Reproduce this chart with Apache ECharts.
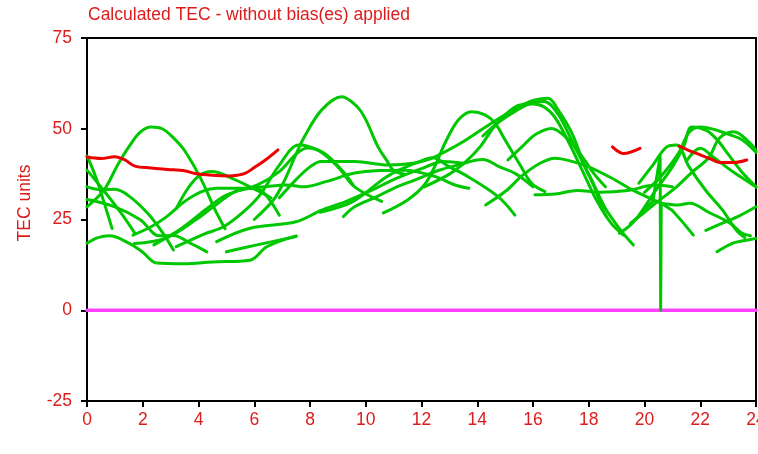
<!DOCTYPE html>
<html>
<head>
<meta charset="utf-8">
<script src="https://cdn.jsdelivr.net/npm/echarts@6/dist/echarts.min.js"></script>
<style>
  html, body { margin: 0; padding: 0; background: #ffffff; }
  #chart { width: 758px; height: 454px; }
</style>
</head>
<body>
<div id="chart"></div>
<script>
// Axis ranges (hours of day, TEC units)
const xMin = 0, xMax = 24, xStep = 2;
const yMin = -25, yMax = 75, yStep = 25;

// Satellite passes: [hour, TEC]
const g01 = [[0,28.5],[0.6,33],[1.1,40],[1.5,45],[1.9,49],[2.3,50.5],[2.7,50],[3.1,47.5],[3.5,44],[4.1,36],[4.6,27.6],[4.95,22.5]];
const g02 = [[0,42.5],[0.3,37],[0.6,30],[0.9,22.5]];
const g03 = [[0,38.6],[0.6,33],[1.2,27],[1.72,21.2]];
const g04 = [[0,34],[0.5,33.2],[1,33.3],[1.5,31.5],[2.2,26.5],[2.7,21.5],[3.1,16.6]];
const g05 = [[0,30.5],[1,28.5],[1.9,25],[2.6,20.5],[3.1,20.6],[3.7,18.5],[4.3,16.1]];
const g06 = [[0,18.5],[0.4,20],[0.8,20.5],[1.5,18.5],[2,16],[2.5,13],[3.5,12.8],[4.5,13.3],[5.85,13.8],[6.45,17.5],[7.5,20.5]];
const g07 = [[1.65,20.7],[2.3,23],[2.86,25.8],[3.7,31],[4.65,33.6],[5.85,33.6],[6.3,32.7],[6.9,26.2]];
const g08 = [[1.7,18.4],[2.8,19.8],[3.9,24.9],[4.7,29.5],[5.4,33],[6.4,34],[7.2,34.5],[7.8,34],[8.6,35.5],[9.6,37.8],[10.5,38.5],[11.4,38.6],[12.5,36.8],[13.2,34.5],[13.7,33.6]];
const g09 = [[2.4,18],[3.4,22.6],[4.3,28],[5.0,31.7],[6.1,34.5],[6.9,38.2],[7.5,43],[7.9,44.7],[8.5,43.3],[9.14,38.6],[9.55,34.5]];
const g10 = [[3.2,17.5],[4.2,21],[4.9,23],[5.6,27],[6.2,31.7],[6.9,40],[7.6,45.5],[8.3,44],[9,39.5],[9.6,34],[10.57,30]];
const g11 = [[5.0,16.1],[6.1,18],[7.5,20.3]];
const g12 = [[4.65,18.9],[5.85,22.6],[7.5,24.4],[8.4,27.5],[9.3,30],[10.2,33],[11,36],[12,39],[12.8,41],[13.5,40.5]];
const g13 = [[6.0,25],[6.7,30.5],[7.1,36],[7.46,42.3],[7.8,47.8],[8.42,55.2],[9.14,58.8],[9.7,56],[10.0,52.5],[10.44,45],[10.75,41.3],[11.0,38.5],[11.4,37.5]];
const g14 = [[6.9,31],[7.5,36],[8.0,39.5],[8.4,41],[9.6,41],[10.8,40],[11.7,40.5],[12.4,42],[13.0,39.5],[13.67,36.8],[14.75,31.3],[15.35,26.2]];
const g15 = [[9.2,25.8],[9.6,28.5],[10.4,31.3],[11,33.6],[11.8,36],[12.6,38.5],[13.3,40],[14.2,41.5],[14.8,39.5],[15.4,37.5],[16.0,34]];
const g16 = [[10.63,26.8],[11.5,30.4],[12.1,34.5],[12.5,40],[12.84,46],[13.32,52.4],[13.8,54.7],[14.28,53.8],[14.64,51.5],[15.0,46.9],[15.5,40.5],[15.95,35],[16.43,32.7]];
const g17 = [[8.36,27],[9.55,30],[10.75,36.8],[11.6,40],[12.4,42],[13.4,46],[14.3,50.5],[15.2,54.8],[15.6,56.5],[16.07,57.9],[16.54,58.4],[16.9,55.2],[17.4,48.7],[17.86,39.5],[18.2,34],[18.46,28.5],[18.65,25.6]];
const g18 = [[12.1,34],[13.0,37.5],[13.6,41],[14.1,45],[14.6,50.5],[15.1,54.5],[15.5,56.5],[16.0,56.8],[16.4,56],[16.8,53],[17.3,46],[17.8,38],[18.3,30],[18.8,24],[19.24,20.7]];
const g19 = [[14.2,48],[14.8,52],[15.4,55],[16.0,57.2],[16.4,57.5],[16.9,54],[17.5,45],[18.1,36],[18.6,28],[19.2,21.5],[19.6,18]];
const g20 = [[15.1,41.4],[15.6,45],[16.1,48.5],[16.67,50.1],[17.2,47.5],[17.7,43],[18.2,37.5],[18.6,34]];
const g21 = [[14.3,29],[15.05,33],[15.6,37],[16.25,40.5],[16.8,41.9],[17.4,41],[18.0,39.5],[18.8,36.5],[19.6,33],[20.58,29.5]];
const g22 = [[16.07,31.8],[16.8,32],[17.6,33],[18.4,32.5],[19.4,33],[20.4,34.5],[21.0,34]];
const g23 = [[19.1,21.2],[19.5,23.5],[19.85,26.7],[20.4,33],[21.0,39.5],[21.4,45],[21.7,50.5],[22.2,49.6],[22.6,47],[23.0,43],[23.5,38],[24,34]];
const g24 = [[19.5,24],[20.0,27],[20.4,29.5],[21.15,34],[21.7,38],[22.3,42],[22.7,47.5],[23.2,49.2],[23.8,46],[24,44]];
const g25 = [[19.8,35],[20.3,40],[20.8,45],[21.15,45.5],[21.6,39.5],[22.2,33],[22.8,27.6],[23.3,22],[23.6,20]];
const g26 = [[19.9,27],[20.3,30],[20.56,42.5],[20.58,0],[20.6,29.5],[21.0,27.5],[21.4,24],[21.75,20.7]];
const g27 = [[20.6,29.5],[21.2,29],[21.63,29.5],[22.3,27],[23.07,24],[23.5,21.2],[23.8,20.5]];
const g28 = [[22.6,16.1],[23.17,18.5],[23.6,19.2],[24,19.8]];
const g29 = [[20.0,32.5],[20.6,37],[21.2,43],[21.6,49],[22.0,50.5],[22.5,49.8],[23.0,48.5],[23.5,47],[24,43.5]];
const g30 = [[21.5,41],[22,44.6],[22.5,42],[23.2,38],[23.8,35],[24,34]];
const g31 = [[22.2,22],[22.8,24],[23.4,26],[24,28.5]];
const g32 = [[3.2,28],[3.87,36],[4.47,38.2],[5.3,36],[6.1,33],[6.6,31]];

// Passes drawn in red
const r1 = [[0,42.2],[0.5,41.8],[1.0,42.3],[1.36,41.4],[1.72,39.7],[2.3,39.2],[2.9,38.8],[3.5,38.4],[3.87,37.7],[4.5,37.2],[5.07,37],[5.4,37.2],[5.67,37.7],[6.0,39.3],[6.4,41.4],[6.85,44.2]];
const r2 = [[18.85,45],[19.24,43.2],[19.84,44.6]];
const r3 = [[21.25,45.2],[21.6,44],[22,42.8],[22.4,41.6],[22.7,40.7],[23.2,40.7],[23.67,41.4]];

// Zero reference
const zeroLine = [[0,0],[24,0]];

const greenPasses = [g01,g02,g03,g04,g05,g06,g07,g08,g09,g10,g11,g12,g13,g14,g15,g16,
                     g17,g18,g19,g20,g21,g22,g23,g24,g25,g26,g27,g28,g29,g30,g31,g32];
const redPasses = [r1, r2, r3];

const TEXT_RED = '#dc1c1c';
const FONT = '"Liberation Sans", Arial, sans-serif';
const FS = 17.5;

function lineSeries(data, color, width, smooth, z) {
  return {
    type: 'line', data: data, showSymbol: false, symbol: 'none',
    smooth: smooth, z: z, silent: true,
    lineStyle: { color: color, width: width, cap: 'round', join: 'round' }
  };
}

const series = [lineSeries(zeroLine, '#ff40ff', 3.5, false, 2)];
greenPasses.forEach(function (d) {
  series.push(lineSeries(d, '#00c800', 3, d === g26 ? false : 0.35, 3));
});
redPasses.forEach(function (d) {
  series.push(lineSeries(d, '#ee0000', 3, 0.35, 4));
});

const chart = echarts.init(document.getElementById('chart'), null, { renderer: 'canvas' });
chart.setOption({
  animation: false,
  backgroundColor: '#ffffff',
  grid: {
    left: 87, right: 2, top: 38, bottom: 53,
    containLabel: false, outerBoundsMode: 'none',
    show: true, borderColor: '#000', borderWidth: 2, backgroundColor: 'transparent'
  },
  xAxis: {
    type: 'value', min: xMin, max: xMax, interval: xStep,
    axisLine: { show: true, onZero: false, lineStyle: { color: '#000', width: 2 } },
    axisTick: { show: true, inside: false, length: 6, lineStyle: { color: '#000', width: 2 } },
    axisLabel: { color: TEXT_RED, fontFamily: FONT, fontSize: FS, margin: 10, showMaxLabel: true, hideOverlap: false },
    splitLine: { show: false }
  },
  yAxis: {
    type: 'value', min: yMin, max: yMax, interval: yStep,
    axisLine: { show: true, onZero: false, lineStyle: { color: '#000', width: 2 } },
    axisTick: { show: true, inside: false, length: 6, lineStyle: { color: '#000', width: 2 } },
    axisLabel: { color: TEXT_RED, fontFamily: FONT, fontSize: FS, margin: 15 },
    splitLine: { show: false }
  },
  graphic: [
    { type: 'text', left: 88, top: 6, silent: true,
      style: { text: 'Calculated TEC - without bias(es) applied', fill: TEXT_RED, font: FS + 'px ' + FONT } },
    { type: 'text', x: 25, y: 203, rotation: Math.PI / 2, silent: true,
      style: { text: 'TEC units', fill: TEXT_RED, font: FS + 'px ' + FONT, align: 'center', verticalAlign: 'middle' } }
  ],
  series: series
});
</script>
</body>
</html>
